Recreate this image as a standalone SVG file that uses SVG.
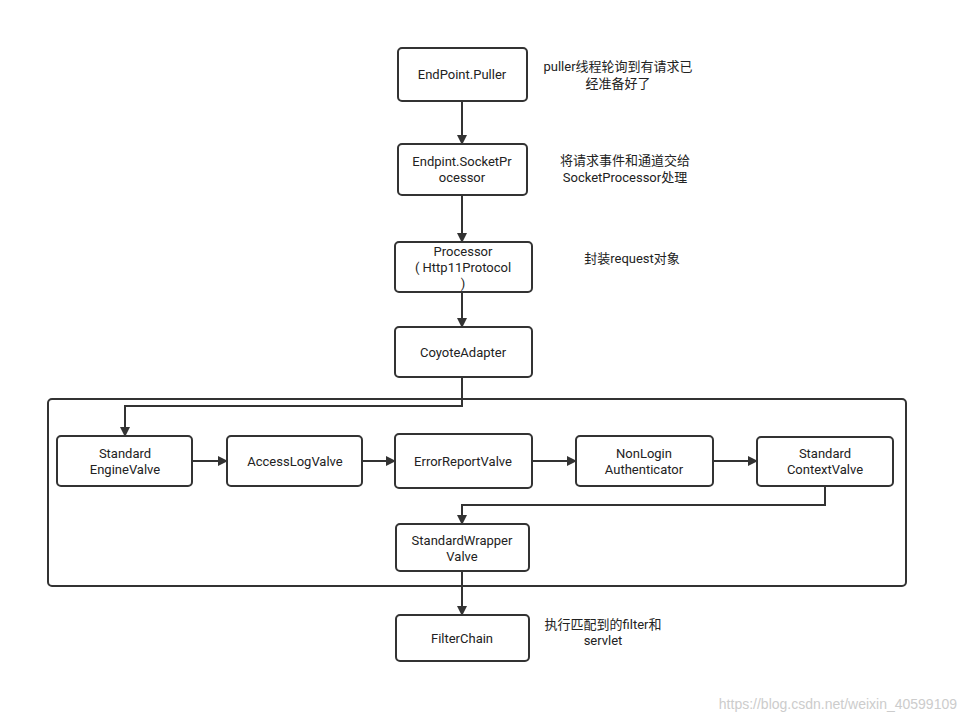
<svg xmlns="http://www.w3.org/2000/svg" width="968" height="723" viewBox="0 0 968 723">
<defs>
<marker id="arr" markerWidth="10" markerHeight="10" refX="9" refY="5" orient="auto" markerUnits="userSpaceOnUse">
<path d="M0,0 L10,5 L0,10 Z" fill="#333"/>
</marker>
<style>
.box{fill:#fff;stroke:#333;stroke-width:2}
.t{font-family:Roboto,"Noto Sans CJK SC",sans-serif;font-size:13px;fill:#222;text-anchor:middle}
.c{fill:none;stroke:#333;stroke-width:2;marker-end:url(#arr)}
</style>
</defs>
<rect width="968" height="723" fill="#fff"/>
<g id="container"><rect class="box" x="48" y="399" width="858" height="187" rx="4"/></g>
<g id="puller"><rect class="box" x="398" y="48" width="129" height="53" rx="4"/><text class="t" x="462" y="79">EndPoint.Puller</text></g>
<g id="socketprocessor"><rect class="box" x="398" y="144" width="129" height="51" rx="4"/><text class="t" x="462" y="166">Endpint.SocketPr</text><text class="t" x="462" y="182">ocessor</text></g>
<g id="processor"><rect class="box" x="395" y="242" width="137" height="50" rx="4"/><text class="t" x="463" y="256">Processor</text><text class="t" x="463" y="272">( Http11Protocol</text><text class="t" x="463" y="288">)</text></g>
<g id="coyote"><rect class="box" x="395" y="327" width="137" height="50" rx="4"/><text class="t" x="463" y="357">CoyoteAdapter</text></g>
<g id="engine"><rect class="box" x="57" y="436" width="135" height="50" rx="4"/><text class="t" x="125" y="458">Standard</text><text class="t" x="125" y="474">EngineValve</text></g>
<g id="accesslog"><rect class="box" x="227" y="436" width="135" height="50" rx="4"/><text class="t" x="295" y="466">AccessLogValve</text></g>
<g id="errorreport"><rect class="box" x="395" y="434" width="137" height="54" rx="4"/><text class="t" x="463" y="466">ErrorReportValve</text></g>
<g id="nonlogin"><rect class="box" x="576" y="436" width="137" height="50" rx="4"/><text class="t" x="644" y="458">NonLogin</text><text class="t" x="644" y="474">Authenticator</text></g>
<g id="context"><rect class="box" x="757" y="437" width="136" height="49" rx="4"/><text class="t" x="825" y="458">Standard</text><text class="t" x="825" y="474">ContextValve</text></g>
<g id="wrapper"><rect class="box" x="396" y="524" width="133" height="47" rx="4"/><text class="t" x="462" y="545">StandardWrapper</text><text class="t" x="462" y="561">Valve</text></g>
<g id="filterchain"><rect class="box" x="396" y="615" width="133" height="46" rx="4"/><text class="t" x="462" y="643">FilterChain</text></g>
<g id="notes">
<text class="t" x="618" y="71">puller线程轮询到有请求已</text>
<text class="t" x="618" y="88">经准备好了</text>
<text class="t" x="625" y="165">将请求事件和通道交给</text>
<text class="t" x="625" y="182">SocketProcessor处理</text>
<text class="t" x="632" y="263">封装request对象</text>
<text class="t" x="603" y="629">执行匹配到的filter和</text>
<text class="t" x="603" y="645">servlet</text>
</g>
<g id="connectors">
<path class="c" d="M462,101 V144"/>
<path class="c" d="M462,195 V242"/>
<path class="c" d="M462,292 V327"/>
<path class="c" d="M462,377 V406 H125 V436"/>
<path class="c" d="M192,461 H227"/>
<path class="c" d="M362,461 H395"/>
<path class="c" d="M532,461 H576"/>
<path class="c" d="M713,461 H757"/>
<path class="c" d="M825,486 V505 H462 V524"/>
<path class="c" d="M462,571 V615"/>
</g>
<text x="957" y="709" font-family="Liberation Sans, Arial, sans-serif" font-size="14" fill="#ccc" text-anchor="end">https://blog.csdn.net/weixin_40599109</text>
</svg>
